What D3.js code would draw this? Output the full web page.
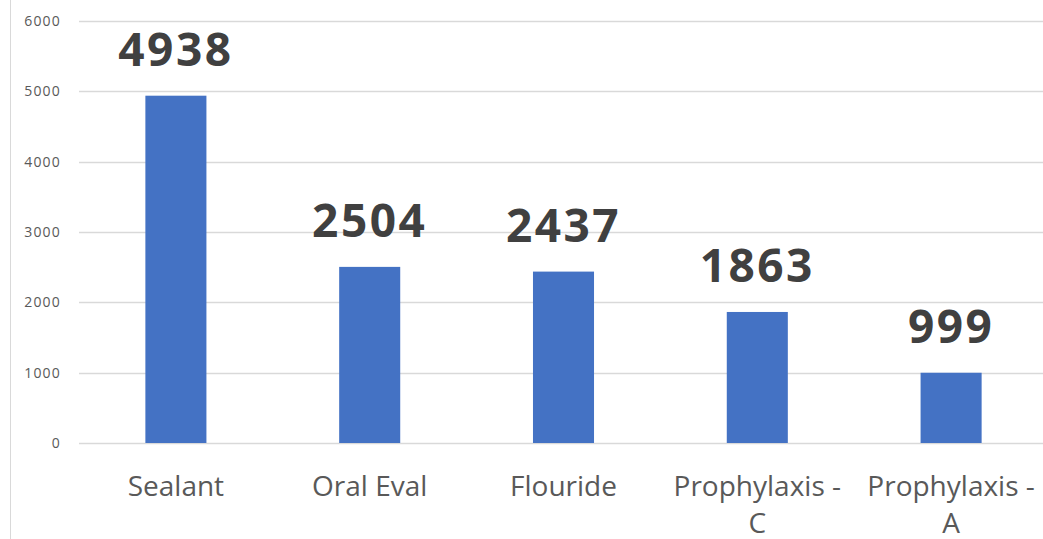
<!DOCTYPE html>
<html>
<head>
<meta charset="utf-8">
<script src="https://cdn.jsdelivr.net/npm/d3@7"></script>
<style>
  body { margin: 0; background: #fff; }
  #chart { width: 1043px; height: 539px; }
</style>
</head>
<body>
<div id="chart"></div>
<script>
let categories = ["Sealant", "Oral Eval", "Flouride", "Prophylaxis - C", "Prophylaxis - A"];
let counts = [4938, 2504, 2437, 1863, 999];
let yTicks = [0, 1000, 2000, 3000, 4000, 5000, 6000];

function drawChart() {
    let div_id = "#chart";
    let win_width = 1043;
    let win_height = 539;

    // plot area
    let margin = {top: 21, right: -5, bottom: 96, left: 79};
    let width = win_width - margin.left - margin.right;
    let height = win_height - margin.top - margin.bottom;

    let svg = d3.select(div_id)
        .append("svg")
        .attr("width", win_width)
        .attr("height", win_height);

    // left border of the chart frame
    svg.append("line")
        .attr("x1", 10.5).attr("x2", 10.5)
        .attr("y1", 0).attr("y2", win_height)
        .attr("stroke", "#d9d9d9")
        .attr("stroke-width", 1);

    let g = svg.append("g")
        .attr("transform", "translate(" + margin.left + "," + margin.top + ")");

    let x = d3.scaleBand()
        .domain(categories)
        .range([0, width])
        .paddingInner(0.685)
        .paddingOuter(0.3425);

    let y = d3.scaleLinear()
        .domain([0, 6000])
        .range([height, 0]);

    // gridlines
    g.selectAll(".grid")
        .data(yTicks)
        .join("line")
        .attr("class", "grid")
        .attr("x1", 0)
        .attr("x2", width)
        .attr("y1", d => Math.round(y(d)) + 0.5)
        .attr("y2", d => Math.round(y(d)) + 0.5)
        .attr("stroke", "#d9d9d9")
        .attr("stroke-width", 1.3);

    // y tick labels
    g.selectAll(".ylab")
        .data(yTicks)
        .join("text")
        .attr("class", "ylab")
        .attr("x", -18)
        .attr("y", d => y(d) + 5)
        .attr("text-anchor", "end")
        .attr("font-family", "Open Sans")
        .attr("font-size", 14)
        .attr("letter-spacing", 1.2)
        .attr("fill", "#595959")
        .text(d => d);

    // bars
    g.selectAll(".bar")
        .data(categories)
        .join("rect")
        .attr("class", "bar")
        .attr("x", d => x(d))
        .attr("width", x.bandwidth())
        .attr("y", (d, i) => y(counts[i]))
        .attr("height", (d, i) => height - y(counts[i]))
        .attr("fill", "#4472c4");

    // value labels
    g.selectAll(".val")
        .data(categories)
        .join("text")
        .attr("class", "val")
        .attr("x", d => x(d) + x.bandwidth() / 2)
        .attr("y", (d, i) => y(counts[i]) - 30)
        .attr("text-anchor", "middle")
        .attr("font-family", "Open Sans")
        .attr("font-weight", "bold")
        .attr("font-size", 46)
        .attr("letter-spacing", 2.5)
        .attr("fill", "#404040")
        .text((d, i) => counts[i]);

    // category labels, wrapped like the original
    let xl = g.selectAll(".xlab")
        .data(categories)
        .join("text")
        .attr("class", "xlab")
        .attr("text-anchor", "middle")
        .attr("font-family", "Open Sans")
        .attr("font-size", 28)
        .attr("fill", "#595959");

    xl.each(function(d) {
        let cx = x(d) + x.bandwidth() / 2;
        let parts = d.indexOf(" - ") >= 0 ? [d.split(" - ")[0] + " -", d.split(" - ")[1]] : [d];
        d3.select(this).selectAll("tspan")
            .data(parts)
            .join("tspan")
            .attr("x", cx)
            .attr("y", (p, i) => height + 53 + i * 37)
            .text(p => p);
    });
}

drawChart();
</script>
</body>
</html>
